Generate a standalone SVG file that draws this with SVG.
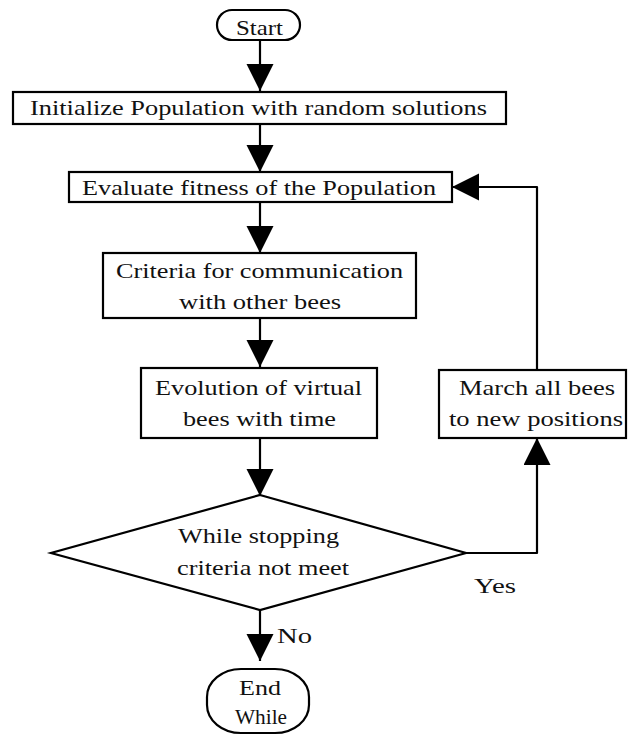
<svg xmlns="http://www.w3.org/2000/svg" width="628" height="735" viewBox="0 0 628 735">
<style>
  .box { fill: #fff; stroke: #000; stroke-width: 2.2; }
  .lbl { font-family: "Liberation Serif", "Times New Roman", serif; font-size: 22px; fill: #111; text-anchor: middle; }
  .lbs { font-family: "Liberation Serif", "Times New Roman", serif; font-size: 22px; fill: #111; }
  .edge { fill: none; stroke: #000; stroke-width: 2.2; stroke-linejoin: round; marker-end: url(#arrow); }
</style>
<defs>
  <marker id="arrow" markerUnits="userSpaceOnUse" markerWidth="28" markerHeight="28" refX="27" refY="13.5" orient="auto" viewBox="0 0 28 28">
    <path d="M0,0 L27,13.5 L0,27 Z" fill="#000"/>
  </marker>
</defs>
<rect width="628" height="735" fill="#fff"/>

<g id="connectors">
  <path class="edge" d="M260,40 V91"/>
  <path class="edge" d="M260,124 V172"/>
  <path class="edge" d="M260,202 V253"/>
  <path class="edge" d="M260,318 V367"/>
  <path class="edge" d="M260,438 V496"/>
  <path class="edge" d="M260,610 V661"/>
  <path class="edge" d="M466,553 H537 V438"/>
  <path class="edge" d="M537,370 V187 H452"/>
</g>

<g id="start">
  <rect class="box" x="217" y="10" width="83" height="30" rx="15" ry="15"/>
  <text class="lbl" x="259.5" y="35" textLength="47" lengthAdjust="spacingAndGlyphs">Start</text>
</g>

<g id="init">
  <rect class="box" x="13" y="92" width="493" height="32"/>
  <text class="lbl" x="258.5" y="114.5" textLength="457" lengthAdjust="spacingAndGlyphs">Initialize Population with random solutions</text>
</g>

<g id="evaluate">
  <rect class="box" x="69" y="172" width="383" height="30"/>
  <text class="lbl" x="259" y="194.5" textLength="354" lengthAdjust="spacingAndGlyphs">Evaluate fitness of the Population</text>
</g>

<g id="criteria">
  <rect class="box" x="103" y="253" width="313" height="65"/>
  <text class="lbl" x="259.5" y="278" textLength="287" lengthAdjust="spacingAndGlyphs">Criteria for communication</text>
  <text class="lbl" x="260" y="309" textLength="162" lengthAdjust="spacingAndGlyphs">with other bees</text>
</g>

<g id="evolution">
  <rect class="box" x="141" y="368" width="236" height="70"/>
  <text class="lbl" x="258.5" y="395" textLength="207" lengthAdjust="spacingAndGlyphs">Evolution of virtual</text>
  <text class="lbl" x="259.5" y="426" textLength="153" lengthAdjust="spacingAndGlyphs">bees with time</text>
</g>

<g id="march">
  <rect class="box" x="439" y="370" width="187" height="68"/>
  <text class="lbl" x="537" y="395" textLength="156" lengthAdjust="spacingAndGlyphs">March all bees</text>
  <text class="lbl" x="536" y="426" textLength="174" lengthAdjust="spacingAndGlyphs">to new positions</text>
</g>

<g id="decision">
  <polygon class="box" points="260,495 466,553 260,610 51,553"/>
  <text class="lbl" x="258.5" y="543" textLength="161" lengthAdjust="spacingAndGlyphs">While stopping</text>
  <text class="lbl" x="263" y="575" textLength="172" lengthAdjust="spacingAndGlyphs">criteria not meet</text>
</g>

<g id="labels">
  <text class="lbs" x="474" y="593" textLength="42" lengthAdjust="spacingAndGlyphs">Yes</text>
  <text class="lbs" x="277" y="643" textLength="35" lengthAdjust="spacingAndGlyphs">No</text>
</g>

<g id="end">
  <rect class="box" x="207" y="669" width="102" height="64" rx="34" ry="28"/>
  <text class="lbl" x="260" y="695" textLength="42" lengthAdjust="spacingAndGlyphs">End</text>
  <text class="lbl" x="261" y="724" textLength="52" lengthAdjust="spacingAndGlyphs">While</text>
</g>
</svg>
